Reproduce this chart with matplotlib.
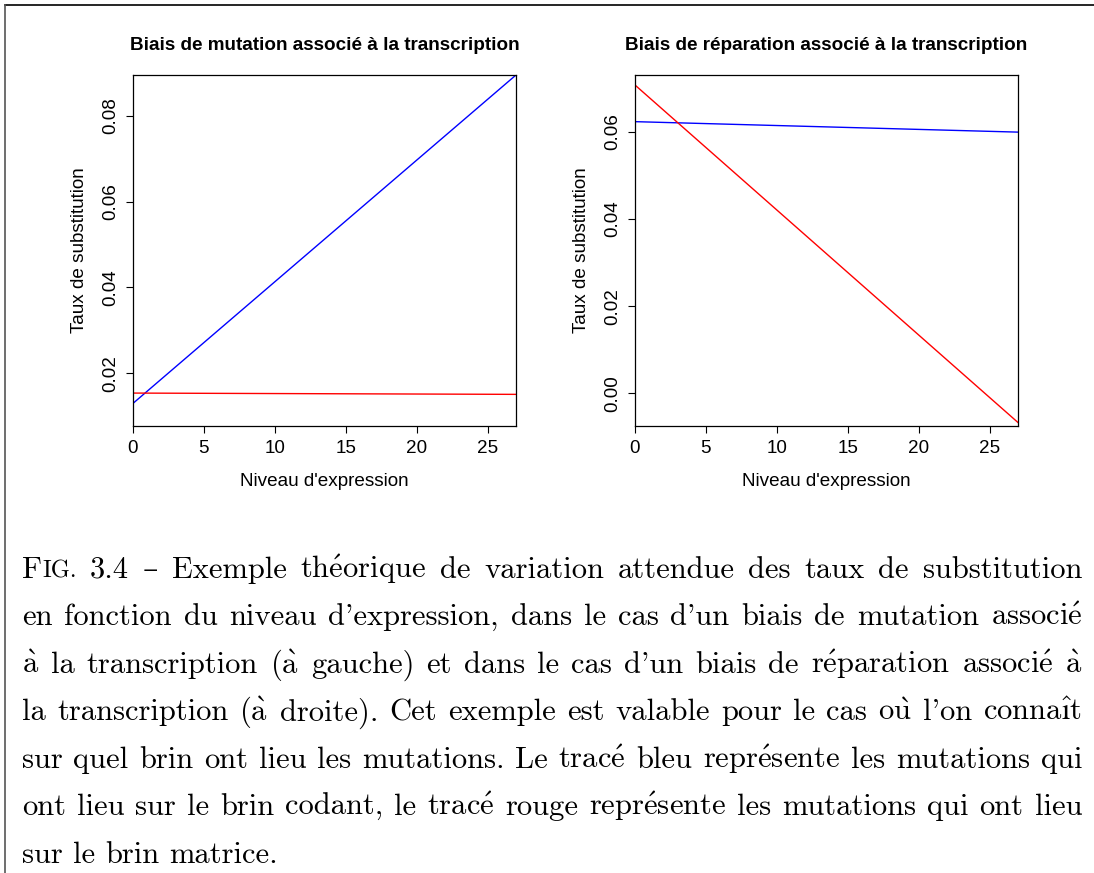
import matplotlib
matplotlib.use("Agg")
import matplotlib.pyplot as plt
from matplotlib.lines import Line2D

plt.rcParams['mathtext.fontset'] = 'cm'

# data
x_expr = [0, 27]
mut_blue = [0.0130, 0.0895]
mut_red = [0.0154, 0.0151]
rep_blue = [0.0623, 0.0599]
rep_red = [0.0707, -0.0067]

xticks = [0, 5, 10, 15, 20, 25]
mut_yticks = [0.02, 0.04, 0.06, 0.08]
rep_yticks = [0.00, 0.02, 0.04, 0.06]
mut_ylim = (0.00773, 0.0895)
rep_ylim = (-0.0075, 0.0730)

titles = ["Biais de mutation associé à la transcription",
          "Biais de réparation associé à la transcription"]
xlab = "Niveau d'expression"
ylab = "Taux de substitution"

caption = [
    "FIG. 3.4 – Exemple théorique de variation attendue des taux de substitution",
    "en fonction du niveau d'expression, dans le cas d'un biais de mutation associé",
    "à la transcription (à gauche) et dans le cas d'un biais de réparation associé à",
    "la transcription (à droite). Cet exemple est valable pour le cas où l'on connaît",
    "sur quel brin ont lieu les mutations. Le tracé bleu représente les mutations qui",
    "ont lieu sur le brin codant, le tracé rouge représente les mutations qui ont lieu",
    "sur le brin matrice.",
]

W, H = 1094, 873
fig = plt.figure(figsize=(W / 100, H / 100), dpi=100)
sans = ['Liberation Sans', 'DejaVu Sans']
fs = 13.6

def panel(left_px, yb, yr, yt, ylim, title):
    ax = fig.add_axes([left_px / W, (H - 426) / H, 383 / W, 351 / H])
    ax.plot(x_expr, yb, color='blue', lw=1)
    ax.plot(x_expr, yr, color='red', lw=1)
    ax.set_xlim(0, 27)
    ax.set_ylim(*ylim)
    ax.set_xticks(xticks)
    ax.set_yticks(yt)
    ax.set_xticklabels([str(t) for t in xticks], family=sans, fontsize=fs)
    ax.set_yticklabels(["%.2f" % t for t in yt], family=sans, fontsize=fs,
                       rotation=90, va='center')
    ax.tick_params(direction='out', length=5, width=0.8, pad=5)
    for s in ax.spines.values():
        s.set_linewidth(0.9)
    ax.set_xlabel(xlab, family=sans, fontsize=fs, va='center')
    ax.xaxis.set_label_coords(0.5, -55 / 351)
    ax.set_ylabel(ylab, family=sans, fontsize=fs, va='center')
    ax.yaxis.set_label_coords(-53 / 383, 0.5)
    ax.set_title(title, family=sans, fontsize=fs, fontweight='bold',
                 y=1 + 30 / 351, va='center', pad=0)
    return ax

panel(133, mut_blue, mut_red, mut_yticks, mut_ylim, titles[0])
panel(635, rep_blue, rep_red, rep_yticks, rep_ylim, titles[1])

# frame lines (top and left)
fig.add_artist(Line2D([4.5 / W, 1], [1 - 4.5 / H, 1 - 4.5 / H], transform=fig.transFigure, color='black', lw=1.2))
fig.add_artist(Line2D([4.5 / W, 4.5 / W], [0, 1 - 4.5 / H], transform=fig.transFigure, color='#555555', lw=1.2))

# caption, justified word by word
cap_fs = 22
cap_font = ['cmr10', 'DejaVu Serif']
x0, x1 = 22, 1082
base0, step = 578, 47.45
space = 0.333 * cap_fs * 100 / 72
r = fig.canvas.get_renderer()

accents = {'é': r'\acute{e}', 'à': r'\grave{a}', 'ù': r'\grave{u}', 'î': r'\hat{ı}'}

def word_parts(w):
    if w == "FIG.":
        return [("F", cap_fs), ("IG.", cap_fs * 0.8)]
    if any(c in accents for c in w):
        s = "".join(accents.get(c, c) for c in w)
        return [(r"$\mathrm{" + s + "}$", cap_fs)]
    return [(w, cap_fs)]

for i, line in enumerate(caption):
    words = line.split(" ")
    items = []
    total = 0
    for w in words:
        arts = []
        ww = 0
        for txt, size in word_parts(w):
            t = fig.text(0, 0, txt, family=cap_font, fontsize=size, va='baseline')
            wd = t.get_window_extent(r).width
            arts.append((t, wd))
            ww += wd
        items.append((arts, ww))
        total += ww
    if i < len(caption) - 1:
        gap = (x1 - x0 - total) / (len(words) - 1)
    else:
        gap = space
    x = x0
    yb = 1 - (base0 + i * step) / H
    for arts, ww in items:
        xx = x
        for t, wd in arts:
            t.set_position((xx / W, yb))
            xx += wd
        x += ww + gap

fig.savefig("out.png", dpi=100)
